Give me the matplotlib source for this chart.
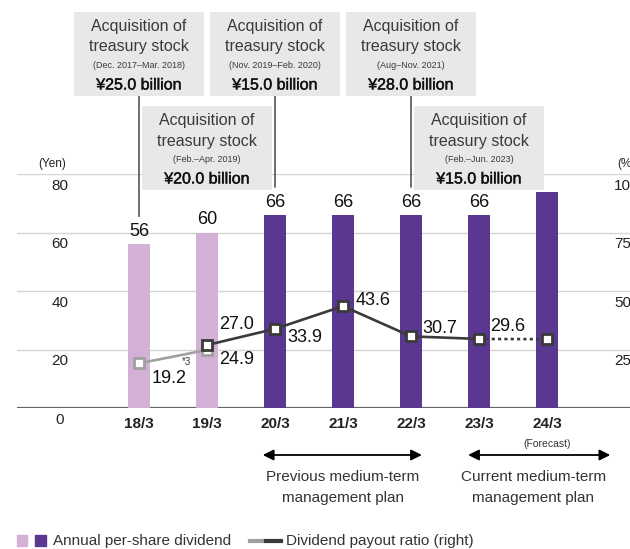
import matplotlib
matplotlib.use("Agg")
import matplotlib.pyplot as plt
import matplotlib.transforms as mtransforms
import matplotlib.patheffects as pe
from matplotlib.patches import Rectangle, FancyArrowPatch, ConnectionPatch
from matplotlib.lines import Line2D

plt.rcParams['font.family'] = ['Liberation Sans', 'DejaVu Sans']

# ---- data -------------------------------------------------------------
years = ['18/3', '19/3', '20/3', '21/3', '22/3', '23/3', '24/3']
dividend = [56, 60, 66, 66, 66, 66, 74]          # yen per share
dividend_labels = ['56', '60', '66', '66', '66', '66', None]
light_bars = [0, 1]                               # years on the old basis

payout_old_idx = [0, 1]
payout_old = [19.2, 24.9]                         # % (old basis)
payout_new_idx = [1, 2, 3, 4, 5]
payout_new = [27.0, 33.9, 43.6, 30.7, 29.6]       # %
payout_forecast = 29.5                            # % for 24/3 (forecast)

yen_ticks = [0, 20, 40, 60, 80]
pct_ticks = [25, 50, 75, 100]

buyback_idx = [0, 1, 2, 4, 5]
buyback_row = [0, 1, 0, 0, 1]
buyback_period = ['(Dec. 2017\u2013Mar. 2018)', '(Feb.\u2013Apr. 2019)',
                  '(Nov. 2019\u2013Feb. 2020)', '(Aug\u2013Nov. 2021)',
                  '(Feb.\u2013Jun. 2023)']
buyback_amount = ['\u00a525.0 billion', '\u00a520.0 billion', '\u00a515.0 billion',
                  '\u00a528.0 billion', '\u00a515.0 billion']

# ---- colours ----------------------------------------------------------
C_LIGHT = '#d3b0d5'
C_DARK = '#5a3892'
C_LINE_OLD = '#a0a0a0'
C_LINE_NEW = '#3a3a3a'
C_BOX = '#e8e8e8'
C_TEXT = '#222222'
C_GRID = '#d4d4d4'

W, H = 630, 549
fig = plt.figure(figsize=(W / 100, H / 100), dpi=100)


def fx(px):
    return px / W


def fy(py):
    return 1 - py / H


# axes: yen 0..80, x positions are bar indices
ax = fig.add_axes([fx(17), fy(408.3), fx(630) - fx(17), fy(174) - fy(408.3)])
ax.set_xlim(-1.794, 7.22)
ax.set_ylim(0, 80)
for s in ax.spines.values():
    s.set_visible(False)
ax.set_yticks([])
ax.tick_params(axis='x', length=0, pad=6)
ax.set_xticks(range(len(years)))
ax.set_xticklabels(years, fontsize=11, fontweight='bold', color=C_TEXT)

# gridlines + baseline
for t in yen_ticks[1:]:
    ax.axhline(t, color=C_GRID, lw=1.0, zorder=0)
ax.axhline(0, color='#666666', lw=1.6, zorder=1)

# left / right tick labels sit just below their gridlines
xt = mtransforms.blended_transform_factory(fig.transFigure, ax.transData)
for t in yen_ticks:
    ax.text(fx(60), t - 1.6, str(t), transform=xt, ha='center', va='top',
            fontsize=11, color=C_TEXT)
ax.text(fx(52), 81.3, '(Yen)', transform=xt, ha='center', va='bottom',
        fontsize=8.5, color=C_TEXT)

ax2 = ax.twinx()
ax2.set_ylim(0, 100)
for s in ax2.spines.values():
    s.set_visible(False)
ax2.set_yticks([])
xt2 = mtransforms.blended_transform_factory(fig.transFigure, ax2.transData)
for t in pct_ticks:
    ax2.text(fx(614), t - 2.0, str(t), transform=xt2, ha='left', va='top',
             fontsize=11, color=C_TEXT)
ax2.text(fx(617), 100 + 1.6, '(%)', transform=xt2, ha='left', va='bottom',
         fontsize=8.5, color=C_TEXT)

# bars
colors = [C_LIGHT if i in light_bars else C_DARK for i in range(len(years))]
ax.bar(range(len(years)), dividend, width=0.31, color=colors, zorder=2,
       clip_on=False)
for i, (v, lab) in enumerate(zip(dividend, dividend_labels)):
    if lab:
        ax.annotate(lab, (i, v), xytext=(0, 3), textcoords='offset points',
                    ha='center', va='bottom', fontsize=13, color='#111111')

# payout ratio lines
ax2.plot(payout_old_idx, payout_old, color=C_LINE_OLD, lw=1.9, zorder=3,
         marker='s', ms=7, mfc='white', mec=C_LINE_OLD, mew=2)
ax2.plot(payout_new_idx, payout_new, color=C_LINE_NEW, lw=1.9, zorder=4,
         marker='s', ms=7, mfc='white', mec=C_LINE_NEW, mew=2)
ax2.plot([payout_new_idx[-1], 6], [payout_new[-1], payout_forecast],
         color=C_LINE_NEW, lw=1.9, ls=(0, (1.2, 1.2)), zorder=3)
ax2.plot([6], [payout_forecast], ls='none', marker='s', ms=7, mfc='white',
         mec=C_LINE_NEW, mew=2, zorder=4)

# value labels: (offset x, offset y) in points, relative to each marker
lbl = dict(fontsize=13, color='#111111', textcoords='offset points',
           ha='left', va='center')
ax2.annotate(f'{payout_old[0]:.1f}', (0, payout_old[0]), xytext=(9, -11), **lbl)
ax2.annotate('*3', (0, payout_old[0]), xytext=(31, 1),
             textcoords='offset points', ha='left', va='center',
             fontsize=7, color='#333333')
ax2.annotate(f'{payout_old[1]:.1f}', (1, payout_old[1]), xytext=(9, -7), **lbl)
new_offsets = [(9, 15), (9, -6), (9, 4), (8, 6), (8, 9)]
for i, v, off in zip(payout_new_idx, payout_new, new_offsets):
    ax2.annotate(f'{v:.1f}', (i, v), xytext=off, **lbl)

# share buyback boxes
bt = mtransforms.blended_transform_factory(ax.transData, fig.transFigure)
box_w = 1.9
row_top = [12, 106]
box_h = 84
for i, r, per, amt in zip(buyback_idx, buyback_row, buyback_period,
                          buyback_amount):
    top = row_top[r]
    fig.patches.append(Rectangle((i - box_w / 2, fy(top + box_h)), box_w,
                                 fy(top) - fy(top + box_h), transform=bt,
                                 facecolor=C_BOX, edgecolor='none', zorder=5))
    fig.text(i, fy(top + 14), 'Acquisition of', transform=bt, ha='center',
             va='center', fontsize=11.5, color='#3a3a3a', zorder=6)
    fig.text(i, fy(top + 35), 'treasury stock', transform=bt, ha='center',
             va='center', fontsize=11.5, color='#3a3a3a', zorder=6)
    fig.text(i, fy(top + 53), per, transform=bt, ha='center', va='center',
             fontsize=6.5, color='#3a3a3a', zorder=6)
    fig.text(i, fy(top + 73), amt, transform=bt, ha='center', va='center',
             fontsize=11.5, color='#111111', zorder=6,
             path_effects=[pe.withStroke(linewidth=0.3, foreground='#111111')])
    if r == 0:
        cp = ConnectionPatch(xyA=(i, fy(top + box_h)), coordsA=bt,
                             xyB=(i, dividend[i] + 9.5), coordsB=ax.transData,
                             color='#333333', lw=1.0, zorder=4)
        fig.add_artist(cp)

# forecast note
ax.annotate('(Forecast)', (6, 0), xytext=(0, -22), textcoords='offset points',
            ha='center', va='top', fontsize=7.5, color='#333333',
            annotation_clip=False)

# medium-term plan arrows
plans = [(1.82, 4.16, 3.0, 'Previous medium-term\nmanagement plan'),
         (4.84, 6.93, 5.8, 'Current medium-term\nmanagement plan')]
for x0, x1, xc, txt in plans:
    arr = FancyArrowPatch((x0, fy(455)), (x1, fy(455)), transform=bt,
                          arrowstyle='<|-|>', mutation_scale=16, lw=1.3,
                          color='black', shrinkA=0, shrinkB=0)
    fig.patches.append(arr)
    fig.text(xc, fy(487.5), txt, transform=bt, ha='center', va='center',
             fontsize=11, color='#333333', linespacing=1.6)

# legend
fig.patches.append(Rectangle((fx(17), fy(546)), fx(10), fy(535) - fy(546),
                             transform=fig.transFigure, color=C_LIGHT))
fig.patches.append(Rectangle((fx(35), fy(546)), fx(11), fy(535) - fy(546),
                             transform=fig.transFigure, color=C_DARK))
fig.text(fx(53), fy(540.5), 'Annual per-share dividend', ha='left',
         va='center', fontsize=11, color='#333333')
fig.lines.append(Line2D([fx(250), fx(262)], [fy(540.5), fy(540.5)],
                        transform=fig.transFigure, color=C_LINE_OLD, lw=3))
fig.lines.append(Line2D([fx(266), fx(281)], [fy(540.5), fy(540.5)],
                        transform=fig.transFigure, color=C_LINE_NEW, lw=3))
fig.text(fx(286), fy(540.5), 'Dividend payout ratio (right)', ha='left',
         va='center', fontsize=11, color='#333333')

fig.savefig('out.png', dpi=100)
